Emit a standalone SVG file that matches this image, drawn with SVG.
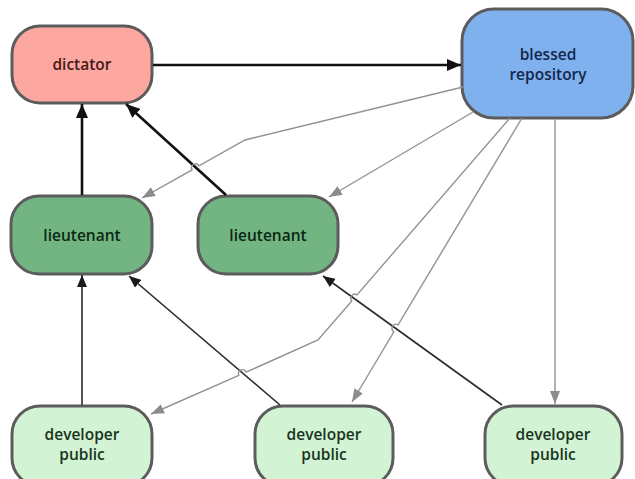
<svg xmlns="http://www.w3.org/2000/svg" width="635" height="479" viewBox="0 0 635 479">
<style>
.node{stroke:#5c5c5c;stroke-width:3}
.t{font-family:"Open Sans","DejaVu Sans","Liberation Sans",sans-serif;font-size:15.5px;font-weight:600;text-anchor:middle}
.blk{fill:none;stroke:#111;stroke-width:2.6}
.dk{fill:none;stroke:#2a2a2a;stroke-width:1.6}
.gr{fill:none;stroke:#929292;stroke-width:1.4}
</style>
<defs>
<marker id="ab" markerUnits="userSpaceOnUse" markerWidth="14" markerHeight="12" viewBox="0 0 14 12" refX="14" refY="6" orient="auto"><path d="M0,0 L14,6 L0,12 z" fill="#111"/></marker>
<marker id="ad" markerUnits="userSpaceOnUse" markerWidth="12" markerHeight="10" viewBox="0 0 12 10" refX="12" refY="5" orient="auto"><path d="M0,0 L12,5 L0,10 z" fill="#1a1a1a"/></marker>
<marker id="ag" markerUnits="userSpaceOnUse" markerWidth="13" markerHeight="10" viewBox="0 0 13 10" refX="13" refY="5" orient="auto"><path d="M0,0 L13,5 L0,10 z" fill="#8c8c8c"/></marker>
</defs>
<rect width="635" height="479" fill="#fff"/>
<g id="dictator"><rect class="node" x="12" y="26" width="140" height="77" rx="28" fill="#fca8a1"/><text class="t" x="82" y="70" fill="#461818">dictator</text></g>
<g id="blessed"><rect class="node" x="462" y="9" width="171" height="109" rx="32" fill="#7fb1ee"/><text class="t" x="548" y="60" fill="#15264a">blessed</text><text class="t" x="548" y="80" fill="#15264a">repository</text></g>
<g id="lieutenant1"><rect class="node" x="11" y="196" width="141" height="78" rx="28" fill="#73b582"/><text class="t" x="82" y="241" fill="#0c2714">lieutenant</text></g>
<g id="lieutenant2"><rect class="node" x="198" y="196" width="140" height="78" rx="28" fill="#73b582"/><text class="t" x="268" y="241" fill="#0c2714">lieutenant</text></g>
<g id="developer1"><rect class="node" x="12" y="406" width="140" height="80" rx="28" fill="#d2f3d4"/><text class="t" x="82" y="440" fill="#1a3321">developer</text><text class="t" x="82" y="460" fill="#1a3321">public</text></g>
<g id="developer2"><rect class="node" x="255" y="406" width="138" height="80" rx="28" fill="#d2f3d4"/><text class="t" x="324" y="440" fill="#1a3321">developer</text><text class="t" x="324" y="460" fill="#1a3321">public</text></g>
<g id="developer3"><rect class="node" x="485" y="406" width="137" height="80" rx="28" fill="#d2f3d4"/><text class="t" x="553" y="440" fill="#1a3321">developer</text><text class="t" x="553" y="460" fill="#1a3321">public</text></g>
<g id="connectors">
<path class="blk" d="M153,65 L461,65" marker-end="url(#ab)"/>
<path class="blk" d="M82,195 L82,104" marker-end="url(#ab)"/>
<path class="blk" d="M226,195 L126,104" marker-end="url(#ab)"/>
<path class="dk" d="M82,405 L82,275" marker-end="url(#ad)"/>
<path class="dk" d="M280,405 L129,276" marker-end="url(#ad)"/>
<path class="dk" d="M502,405 L323,276" marker-end="url(#ad)"/>
<path class="gr" d="M463,87 L245,140 L199,165.9 A4,4 0 0 0 192,169.9 L142,198" marker-end="url(#ag)"/>
<path class="gr" d="M473,112 L329,197" marker-end="url(#ag)"/>
<path class="gr" d="M510,118 L357,294.9 A4,4 0 0 0 351.8,300.9 L318,340 L246.2,372.1 A4,4 0 0 0 238.8,375.3 L151,414" marker-end="url(#ag)"/>
<path class="gr" d="M522,118 L398.1,324.9 A4,4 0 0 0 393.9,331.8 L352,402" marker-end="url(#ag)"/>
<path class="gr" d="M555,119 L555,404" marker-end="url(#ag)"/>
</g>
</svg>
